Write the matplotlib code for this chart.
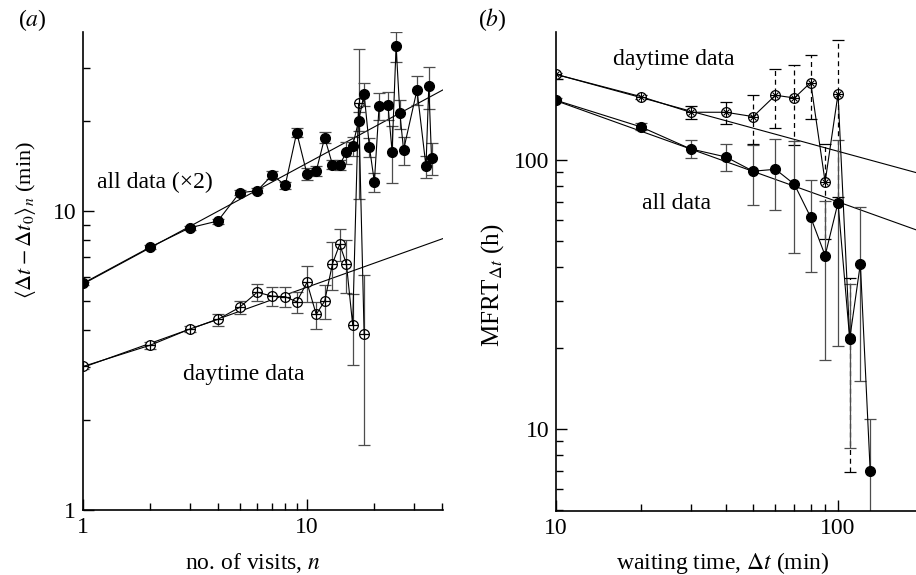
import matplotlib
matplotlib.use("Agg")
import matplotlib.pyplot as plt
import numpy as np
from matplotlib.ticker import LogLocator, NullFormatter, FixedLocator, FixedFormatter

plt.rcParams['font.family'] = ['Liberation Serif', 'DejaVu Serif']
plt.rcParams['mathtext.fontset'] = 'stix'
plt.rcParams['font.size'] = 17

# (a) mean waiting time vs number of visits
n_all = [1, 2, 3, 4, 5, 6, 7, 8, 9, 10, 11, 12, 13, 14, 15, 16, 17, 18, 19, 20,
         21, 23, 24, 25, 26, 27, 31, 34, 35, 36]
y_all = [5.73, 7.58, 8.79, 9.26, 11.5, 11.7, 13.2, 12.2, 18.3, 13.3,
         13.6, 17.6, 14.3, 14.3, 15.7, 16.5, 20.0, 24.6, 16.4, 12.5,
         22.5, 22.6, 15.8, 35.6, 21.2, 16.0, 25.4, 14.1, 26.2, 15.0]
e_all = [0.08, 0.12, 0.15, 0.18, 0.22, 0.25, 0.4, 0.35, 0.65, 0.6,
         0.55, 0.75, 0.5, 0.55, 1.35, 1.25, 1.5, 2.2, 1.2, 0.95,
         2.4, 2.5, 3.4, 4.2, 2.4, 1.7, 2.8, 1.2, 4.2, 1.85]

n_day = [1, 2, 3, 4, 5, 6, 7, 8, 9, 10, 11, 12, 13, 14, 15, 16, 17, 18]
y_day = [3.02, 3.56, 4.03, 4.34, 4.76, 5.35, 5.19, 5.17, 4.97, 5.77,
         4.51, 5.00, 6.66, 7.74, 6.66, 4.16, 22.9, 3.88]
e_day = [0.05, 0.1, 0.1, 0.2, 0.24, 0.35, 0.36, 0.38, 0.4, 0.8,
         0.47, 0.65, 1.2, 0.95, 1.35, 1.1, 11.9, 2.23]

fit_a_all = (5.7, 0.404)   # prefactor, exponent
fit_a_day = (3.0, 0.268)

# (b) MFRT vs waiting time
dt_all = [10, 20, 30, 40, 50, 60, 70, 80, 90, 100, 110, 120, 130]
m_all = [166.7, 132.7, 109.9, 102.6, 90.8, 92.3, 81.2, 61.2, 44.1, 69.4, 21.6, 41.1, 7.0]
em_all = [3, 4, 8.3, 12, 23, 27, 36, 23, 26, 49, 13.1, 26, 3.9]

dt_day = [10, 20, 30, 40, 50, 60, 70, 80, 90, 100, 110]
m_day = [208, 172, 150.4, 150.4, 144.9, 174, 170, 194, 82.8, 176, 21.7]
em_day = [3, 3, 8, 14, 30, 43, 56, 52, 32, 103, 14.8]

fit_b_day = (208, -0.286)
fit_b_all = (166, -0.376)

fig = plt.figure(figsize=(9.16, 5.75), dpi=100)
axa = fig.add_axes([83/916, 65/575, 360/916, 478/575])
axb = fig.add_axes([556/916, 64/575, 360/916, 479/575])

ecol = '0.3'
ms = 7

def style(ax, xt, yt):
    for s in ['top', 'right']:
        ax.spines[s].set_visible(False)
    for s in ['left', 'bottom']:
        ax.spines[s].set_linewidth(1.2)
    ax.set_xscale('log')
    ax.set_yscale('log')
    ax.xaxis.set_major_locator(FixedLocator(xt))
    ax.xaxis.set_major_formatter(FixedFormatter([str(v) for v in xt]))
    ax.yaxis.set_major_locator(FixedLocator(yt))
    ax.yaxis.set_major_formatter(FixedFormatter([str(v) for v in yt]))
    ax.xaxis.set_minor_locator(LogLocator(subs=np.arange(2, 10)))
    ax.yaxis.set_minor_locator(LogLocator(subs=np.arange(2, 10)))
    ax.xaxis.set_minor_formatter(NullFormatter())
    ax.yaxis.set_minor_formatter(NullFormatter())
    ax.tick_params(which='both', direction='in', width=1.0, labelsize=17, pad=5)
    ax.tick_params(which='major', length=8)
    ax.tick_params(which='minor', length=5)

# ---- panel (a)
xa = np.array([1, 40.5])
axa.plot(xa, fit_a_all[0] * xa ** fit_a_all[1], color='k', lw=0.8)
axa.plot(xa, fit_a_day[0] * xa ** fit_a_day[1], color='k', lw=0.8)

axa.errorbar(n_day, y_day, yerr=e_day, fmt='-', color='k', lw=0.8,
             ecolor=ecol, elinewidth=0.9, capsize=4, capthick=0.9)
axa.plot(n_day, y_day, 'o', ms=ms, mfc='white', mec='k', mew=0.9)
axa.plot(n_day, y_day, '+', ms=ms, mec='k', mew=0.9)

axa.errorbar(n_all, y_all, yerr=e_all, fmt='-o', color='k', lw=0.8, ms=ms,
             ecolor=ecol, elinewidth=0.9, capsize=4, capthick=0.9)

style(axa, [1, 10], [1, 10])
axa.set_xlim(1, 40.5)
axa.set_ylim(1, 39.7)

axa.text(1.155, 12.5, 'all data (×2)', ha='left', va='center', fontsize=17)
axa.text(2.80, 2.83, 'daytime data', ha='left', va='center', fontsize=17)

axa.set_xlabel(r'no. of visits, $n$', fontsize=17)
axa.xaxis.set_label_coords(0.472, -0.111)
axa.xaxis.label.set_va('center')
axa.set_ylabel(r'$\langle \Delta t - \Delta t_0 \rangle_n$ (min)', fontsize=16,
               va='center', ha='center')
axa.yaxis.set_label_coords(-0.161, 0.607)

# ---- panel (b)
xb = np.array([10, 189])
axb.plot(xb, fit_b_day[0] * (xb / 10) ** fit_b_day[1], color='k', lw=0.8)
axb.plot(xb, fit_b_all[0] * (xb / 10) ** fit_b_all[1], color='k', lw=0.8)

eb = axb.errorbar(dt_day, m_day, yerr=em_day, fmt='-', color='k', lw=0.8,
                  ecolor='k', elinewidth=0.9, capsize=4, capthick=0.9)
eb[2][0].set_linestyle((0, (4, 3)))
axb.plot(dt_day, m_day, 'o', ms=ms, mfc='white', mec='k', mew=0.9)
axb.plot(dt_day, m_day, '+', ms=ms, mec='k', mew=0.8)
axb.plot(dt_day, m_day, 'x', ms=ms - 2, mec='k', mew=0.8)

axb.errorbar(dt_all, m_all, yerr=em_all, fmt='-o', color='k', lw=0.8, ms=ms,
             ecolor=ecol, elinewidth=0.9, capsize=4, capthick=0.9)

style(axb, [10, 100], [10, 100])
axb.set_xlim(10, 189)
axb.set_ylim(4.95, 299)

axb.text(15.97, 235.3, 'daytime data', ha='left', va='center', fontsize=17)
axb.text(20.1, 69.0, 'all data', ha='left', va='center', fontsize=17)

axb.set_xlabel(r'waiting time, $\Delta t$ (min)', fontsize=17)
axb.xaxis.set_label_coords(0.4625, -0.109)
axb.xaxis.label.set_va('center')
axb.set_ylabel(r'MFRT$_{\Delta t}$ (h)', fontsize=18, va='center', ha='center')
axb.yaxis.set_label_coords(-0.175, 0.472)

fig.text(18/916, 1 - 20/575, r'($a$)', ha='left', va='center', fontsize=17)
fig.text(478/916, 1 - 20/575, r'($b$)', ha='left', va='center', fontsize=17)

fig.savefig('out.png', dpi=100)
